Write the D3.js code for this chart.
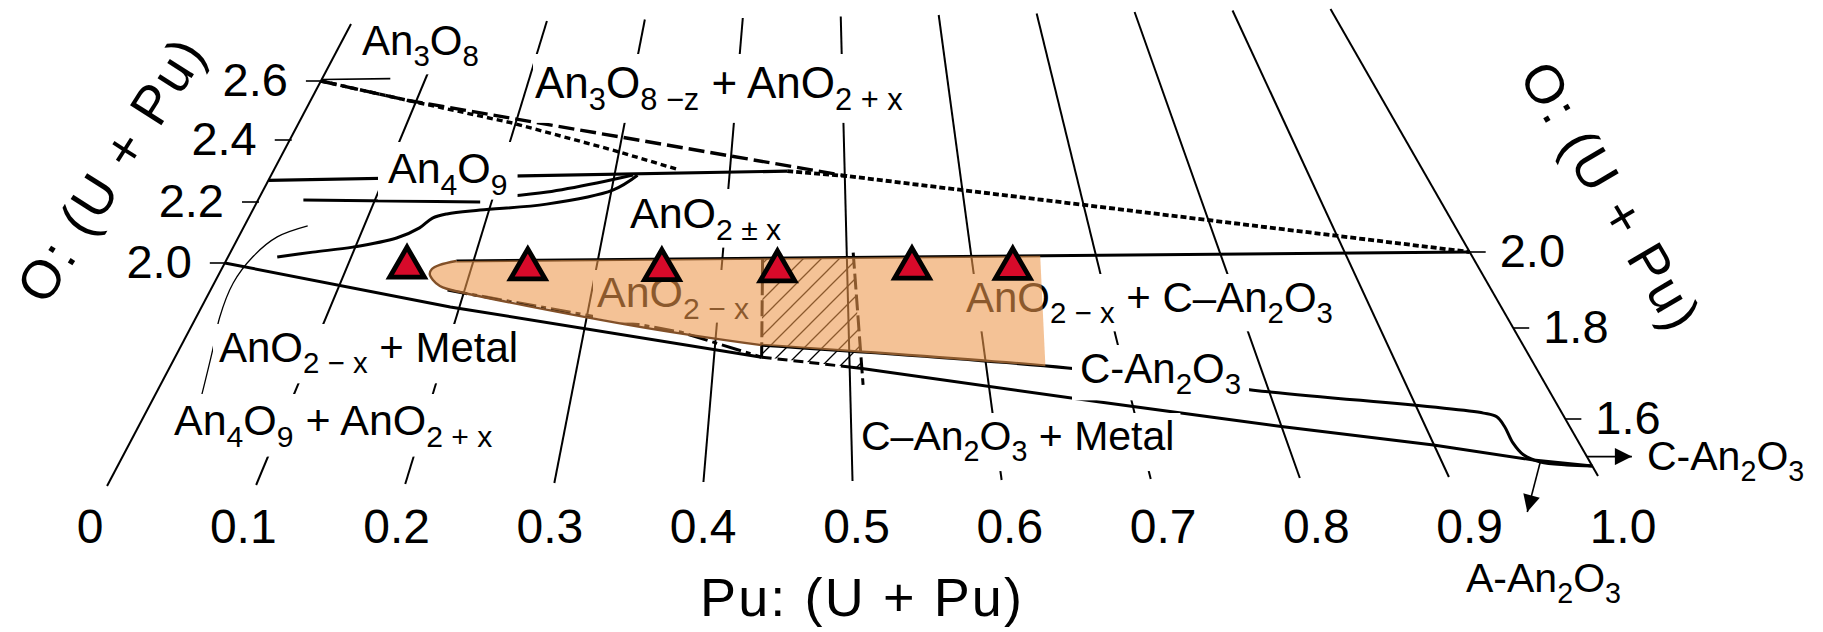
<!DOCTYPE html>
<html><head><meta charset="utf-8">
<script src="https://cdn.jsdelivr.net/npm/d3@7/dist/d3.min.js"></script>
<style>
html,body{margin:0;padding:0;background:#fff;overflow:hidden}
svg{display:block;font-family:"Liberation Sans",Arial,Helvetica,sans-serif}
text{white-space:pre}
</style></head><body>
<svg id="chart" width="1823" height="632"></svg>
<script>
// ---------- ticks / categories ----------
const puTicks=[0,0.1,0.2,0.3,0.4,0.5,0.6,0.7,0.8,0.9,1.0];
const puTickLabels=["0","0.1","0.2","0.3","0.4","0.5","0.6","0.7","0.8","0.9","1.0"];
const omLeftTicks=[2.0,2.2,2.4,2.6];
const omLeftTickLabels=["2.0","2.2","2.4","2.6"];
const omRightTicks=[2.0,1.8,1.6];
const omRightTickLabels=["2.0","1.8","1.6"];
const omGridSpan=[1.45,2.8];

// ---------- phase boundaries, [Pu/(U+Pu), O/(U+Pu)] ----------
const an3o8Line=[[0,2.605],[0.066,2.605]];
const dottedUpper=[[0,2.6],[0.091,2.53],[0.198,2.446],[0.295,2.351],[0.357,2.283]];
const dashedUpper=[[0,2.6],[0.091,2.53],[0.503,2.255]];
const dottedRight=[[0.451,2.274],[0.503,2.255],[1.0,2.0]];
const an4o9Line=[[0,2.27],[0.451,2.274]];
const an4o9Lower=[[0.039,2.204],[0.191,2.189]];
const an4o9Curve=[[0.207,2.204],[0.246,2.218],[0.287,2.245],[0.317,2.269]];
const dioxideUpper=[[0.040,2.018],[0.067,2.033],[0.098,2.048],[0.131,2.076],[0.147,2.108],[0.155,2.139],[0.166,2.152],[0.193,2.163],[0.248,2.179],[0.302,2.221],[0.321,2.268]];
const thinArc=[[0.053,2.119],[0.032,2.084],[0.020,2.019],[0.015,1.940],[0.018,1.838],[0.025,1.745],[0.033,1.621]];
const stoichLine=[[0.186,2.0],[1.0,2.0]];
const sesquiUpper=[[0.432,1.76],[0.656,1.707],[0.786,1.658],[0.944,1.611],[0.952,1.603],[0.954,1.582],[0.954,1.548],[0.957,1.523],[0.966,1.508],[0.983,1.502],[1.0,1.5]];
const lowestLine=[[0,2.0],[0.192,1.866],[0.432,1.73],[0.49,1.709],[0.504,1.704],[0.673,1.627],[0.755,1.593],[0.798,1.577],[0.898,1.542],[0.962,1.512],[1.0,1.5]];
const lowestDashedSpan=[0.432,0.49];
const dashDotLine=[[0.186,1.915],[0.371,1.793],[0.432,1.73]];
const hypoNose=[[0.186,2.0],[0.1737,1.989],[0.1684,1.977],[0.168,1.962],[0.172,1.945],[0.179,1.927],[0.185,1.919],[0.34,1.807],[0.432,1.76]];
const hypoRegion=[[0.186,2.0],[0.655,2.0],[0.64,1.711],[0.432,1.76],[0.34,1.807],[0.185,1.919],[0.179,1.927],[0.172,1.945],[0.168,1.962],[0.1684,1.977],[0.1737,1.989]];
const hatchBox=[[0.432,2.0],[0.505,2.0],[0.505,1.704],[0.432,1.73]];
const hatchLeft=[[0.432,2.0],[0.432,1.73]];
const hatchRight=[[0.505,2.015],[0.505,1.663]];
const samplePu=[0.148,0.245,0.352,0.444,0.551,0.631];
const sampleOM=[1.983,1.975,1.97,1.964,1.969,1.966];
const arrowC=[1.0,1.52];
const arrowA=[0.966,1.508];

// ---------- perspective scales ----------
const yLeft=d3.scaleLinear().domain([1.45,1.6,1.8,2.0,2.2,2.4,2.6,2.8]).range([486,402,330,263,202,140,81,24]);
const yRight=d3.scaleLinear().domain([1.45,1.5,1.6,1.8,2.0,2.2,2.4,2.6,2.8]).range([476,466,419,328,252,184,123,66,9]);
const xLeftAxis=d3.scaleLinear().domain([24,488]).range([351,106]);
const xRightAxis=d3.scaleLinear().domain([9,476]).range([1330.5,1598]);
const puLabelX=d3.scaleLinear().domain([0,1]).range([90,1623]);
function proj(p,o){const yl=yLeft(o),yr=yRight(o);const xl=xLeftAxis(yl),xr=xRightAxis(yr);return [xl+(xr-xl)*p,yl+(yr-yl)*p];}
const P=d=>proj(d[0],d[1]);
const lin=d3.line();
const smooth=d3.line().curve(d3.curveCatmullRom.alpha(0.5));

const svg=d3.select("#chart");
const defs=svg.append("defs");
const pat=defs.append("pattern").attr("id","hatch").attr("patternUnits","userSpaceOnUse").attr("width",18).attr("height",18);
pat.append("path").attr("d","M-2,20 L20,-2 M-2,2 L2,-2 M16,20 L20,16").attr("stroke","#000").attr("stroke-width",1.3);
defs.append("clipPath").attr("id","boxclip").append("path").attr("d",lin(hatchBox.map(P))+"Z");
const mk=defs.append("marker").attr("id","ah").attr("viewBox","0 0 10 10").attr("refX",10).attr("refY",5)
  .attr("markerUnits","userSpaceOnUse").attr("markerWidth",28).attr("markerHeight",17).attr("orient","auto");
mk.append("path").attr("d","M0,0 L10,5 L0,10 Z").attr("fill","#000");

const gGrid=svg.append("g");
const gLines=svg.append("g");
const gLab=svg.append("g");
const gTan=svg.append("g");
const gTop=svg.append("g");

// grid lines (constant Pu fraction)
gGrid.selectAll("line").data(puTicks).join("line")
  .attr("x1",p=>proj(p,omGridSpan[0])[0]).attr("y1",p=>proj(p,omGridSpan[0])[1])
  .attr("x2",p=>proj(p,omGridSpan[1])[0]).attr("y2",p=>proj(p,omGridSpan[1])[1])
  .attr("stroke","#000").attr("stroke-width",2);

// ticks and tick labels
omLeftTicks.forEach((o,i)=>{
  const [x,y]=proj(0,o);
  gGrid.append("line").attr("x1",x-15).attr("x2",x+2).attr("y1",y).attr("y2",y).attr("stroke","#000").attr("stroke-width",1.6);
  gGrid.append("text").attr("x",x-33).attr("y",y+15).attr("text-anchor","end").attr("font-size",47).text(omLeftTickLabels[i]);
});
omRightTicks.forEach((o,i)=>{
  const [x,y]=proj(1,o);
  gGrid.append("line").attr("x1",x).attr("x2",x+16).attr("y1",y).attr("y2",y).attr("stroke","#000").attr("stroke-width",1.6);
  gGrid.append("text").attr("x",x+30).attr("y",y+15).attr("font-size",47).text(omRightTickLabels[i]);
});
puTicks.forEach((p,i)=>{
  gGrid.append("text").attr("x",puLabelX(p)).attr("y",543).attr("text-anchor","middle").attr("font-size",48).text(puTickLabels[i]);
});

// axis titles
gGrid.append("text").attr("x",861).attr("y",616).attr("text-anchor","middle").attr("font-size",54)
  .attr("textLength",322).text("Pu: (U + Pu)");
gGrid.append("text").attr("transform","translate(110,170) rotate(-57.5)").attr("text-anchor","middle").attr("dy","0.36em")
  .attr("font-size",54).attr("textLength",300).text("O: (U + Pu)");
gGrid.append("text").attr("transform","translate(1611,195) rotate(59.5)").attr("text-anchor","middle").attr("dy","0.36em")
  .attr("font-size",54).attr("textLength",300).text("O: (U + Pu)");

// phase lines
function draw(g,pts,w,dash,sm,color){
  const el=g.append("path").attr("d",(sm?smooth:lin)(pts.map(P))).attr("fill","none")
    .attr("stroke",color||"#000").attr("stroke-width",w).attr("stroke-linejoin","round");
  if(dash) el.attr("stroke-dasharray",dash);
  return el;
}
draw(gLines,an3o8Line,1.6);
draw(gLines,dottedUpper,3.4,"6,4");
draw(gLines,dashedUpper,3.4,"16,6");
draw(gLines,dottedRight,3.8,"6,3");
draw(gLines,an4o9Line,3.2);
draw(gLines,an4o9Lower,3);
draw(gLines,an4o9Curve,3,null,true);
draw(gLines,dioxideUpper,3,null,true);
draw(gLines,thinArc,1.3,null,true);
draw(gLines,stoichLine,3);
draw(gLines,sesquiUpper,3,null,true);
draw(gLines,lowestLine.filter(d=>d[0]<=lowestDashedSpan[0]),3);
draw(gLines,lowestLine.filter(d=>d[0]>=lowestDashedSpan[0]&&d[0]<=lowestDashedSpan[1]),3,"10,6");
draw(gLines,lowestLine.filter(d=>d[0]>=lowestDashedSpan[1]),3);
draw(gLines,dashDotLine,3,"20,5,5,5");
gLines.append("path").attr("d",lin(hatchBox.map(P))+"Z").attr("fill","url(#hatch)").attr("clip-path","url(#boxclip)");
draw(gLines,hatchLeft,3,"16,5");
draw(gLines,hatchRight,3,"16,5");

// arrows
(function(){
  const [x,y]=P(arrowC);
  gLines.append("line").attr("x1",x).attr("y1",y).attr("x2",x+45).attr("y2",y).attr("stroke","#000").attr("stroke-width",1.6).attr("marker-end","url(#ah)");
  const [x2,y2]=P(arrowA);
  gLines.append("line").attr("x1",x2).attr("y1",y2).attr("x2",x2-13).attr("y2",y2+50).attr("stroke","#000").attr("stroke-width",1.6).attr("marker-end","url(#ah)");
})();

// labels
const labels=[
 {parts:[["An"],["3",1],["O"],["8",1]],x:362,y:55,size:42},
 {parts:[["An"],["3",1],["O"],["8 −z",1],[" + AnO"],["2 + x",1]],x:535,y:98,size:44,pad:[2,10,10,10]},
 {parts:[["An"],["4",1],["O"],["9",1]],x:388,y:183,size:43,pad:[10,10,8,3]},
 {parts:[["AnO"],["2 ± x",1]],x:630,y:228,size:43,pad:[6,6,6,6]},
 {parts:[["AnO"],["2 − x",1]],x:597,y:307,size:43,pad:[4,4,4,2]},
 {parts:[["AnO"],["2 − x",1],[" + C–An"],["2",1],["O"],["3",1]],x:966,y:312,size:42,pad:[6,6,6,6]},
 {parts:[["C-An"],["2",1],["O"],["3",1]],x:1080,y:383,size:42,pad:[8,8,6,4]},
 {parts:[["C–An"],["2",1],["O"],["3",1],[" + Metal"]],x:861,y:450,size:41,pad:[6,6,6,8]},
 {parts:[["AnO"],["2 − x",1],[" + Metal"]],x:219,y:362,size:42,pad:[6,6,6,8]},
 {parts:[["An"],["4",1],["O"],["9",1],[" + AnO"],["2 + x",1]],x:174,y:435,size:43,pad:[6,6,8,8]},
 {parts:[["C-An"],["2",1],["O"],["3",1]],x:1647,y:470,size:41,bg:false},
 {parts:[["A-An"],["2",1],["O"],["3",1]],x:1466,y:592,size:41,bg:false}
];
labels.forEach(L=>{
  const g=gLab.append("g");
  const r=g.append("rect").attr("fill","#fff");
  const t=g.append("text").attr("x",L.x).attr("y",L.y).attr("font-size",L.size);
  let sub=false;const s=L.size;
  L.parts.forEach(([txt,isSub])=>{
    const ts=t.append("tspan").text(txt);
    if(isSub){ts.attr("font-size",s*0.7);if(!sub){ts.attr("dy",s*0.27);sub=true;}}
    else if(sub){ts.attr("dy",-s*0.27);sub=false;}
  });
  if(L.bg!==false){
    const b=t.node().getBBox();const pd=L.pad||[8,8,6,6];
    r.attr("x",b.x-pd[0]).attr("y",b.y+6-pd[2]).attr("width",b.width+pd[0]+pd[1]).attr("height",b.height-10+pd[2]+pd[3]);
  } else r.remove();
});

// single-phase hypostoichiometric region (translucent overlay)
gTan.append("path").attr("d",lin(hypoRegion.map(P))+"Z").attr("fill","rgb(237,152,76)").attr("fill-opacity",0.59);
draw(gTan,hypoNose,2.4,null,true,"rgb(130,80,40)");

// samples
gTop.selectAll("path").data(samplePu).join("path")
  .attr("transform",(p,i)=>{const [x,y]=proj(p,sampleOM[i]);return `translate(${x},${y})`;})
  .attr("d",d3.symbol(d3.symbolTriangle,520)())
  .attr("fill","#D70A2A").attr("stroke","#000").attr("stroke-width",4.8).attr("stroke-linejoin","miter");
</script>
</body></html>
